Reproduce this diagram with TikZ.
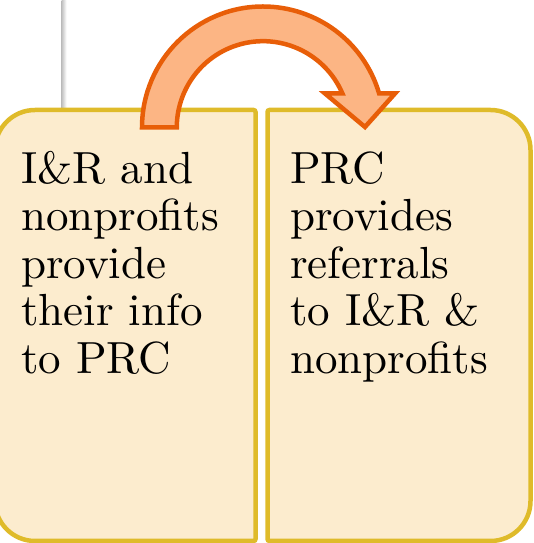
\documentclass[tikz,border=0pt]{standalone}
\usepackage{fontspec}
\setmainfont{lmroman10-regular.otf}
\definecolor{boxfill}{HTML}{FCECCE}
\definecolor{boxline}{HTML}{DFBB2A}
\definecolor{arrowfill}{HTML}{FCB584}
\definecolor{arrowline}{HTML}{E85E08}
\begin{document}
\begin{tikzpicture}[x=1pt,y=1pt,
  panel/.style={fill=boxfill, draw=boxline, line width=4.5pt},
  bendarrow/.style={fill=arrowfill, draw=arrowline, line width=4.5pt, line join=miter},
  labeltext/.style={anchor=base west, inner sep=0pt, font=\fontsize{45}{47.5}\selectfont}]
\useasboundingbox (0,0) rectangle (533,543);
\clip (0,0) rectangle (533,543);
% grey guide line with shadow
\shade[left color=gray!50, right color=white] (61.5,430) rectangle (66.5,543);
% left panel
\path[panel] (253.5,433) -- (35,433) arc[start angle=90, end angle=180, radius=40]
  -- (-5,42) arc[start angle=180, end angle=270, radius=40]
  -- (253.5,2) arc[start angle=270, end angle=360, radius=2]
  -- (255.5,431) arc[start angle=0, end angle=90, radius=2] -- cycle;
% right panel
\path[panel] (269.5,433) -- (490.5,433) arc[start angle=90, end angle=0, radius=40]
  -- (530.5,42) arc[start angle=0, end angle=-90, radius=40]
  -- (269.5,2) arc[start angle=270, end angle=180, radius=2]
  -- (267.5,431) arc[start angle=180, end angle=90, radius=2] -- cycle;
% curved arrow
\path[bendarrow] (142,415.5) arc[start angle=180, end angle=16.32, radius=121]
  -- (395,449.5) -- (365,416) -- (325,449.5)
  -- (342.4,449.5) arc[start angle=23.2, end angle=180, radius=86.3] -- cycle;
% texts
\node[labeltext] (lefttext) at (21,359.7) {\vtop{\hbox{I\&R and}\hbox{nonprofits}\hbox{provide}\hbox{their info}\hbox{to PRC}}};
\node[labeltext] (righttext) at (290,359.7) {\vtop{\hbox{PRC}\hbox{provides}\hbox{referrals}\hbox{to I\&R \&}\hbox{nonprofits}}};
\end{tikzpicture}
\end{document}
